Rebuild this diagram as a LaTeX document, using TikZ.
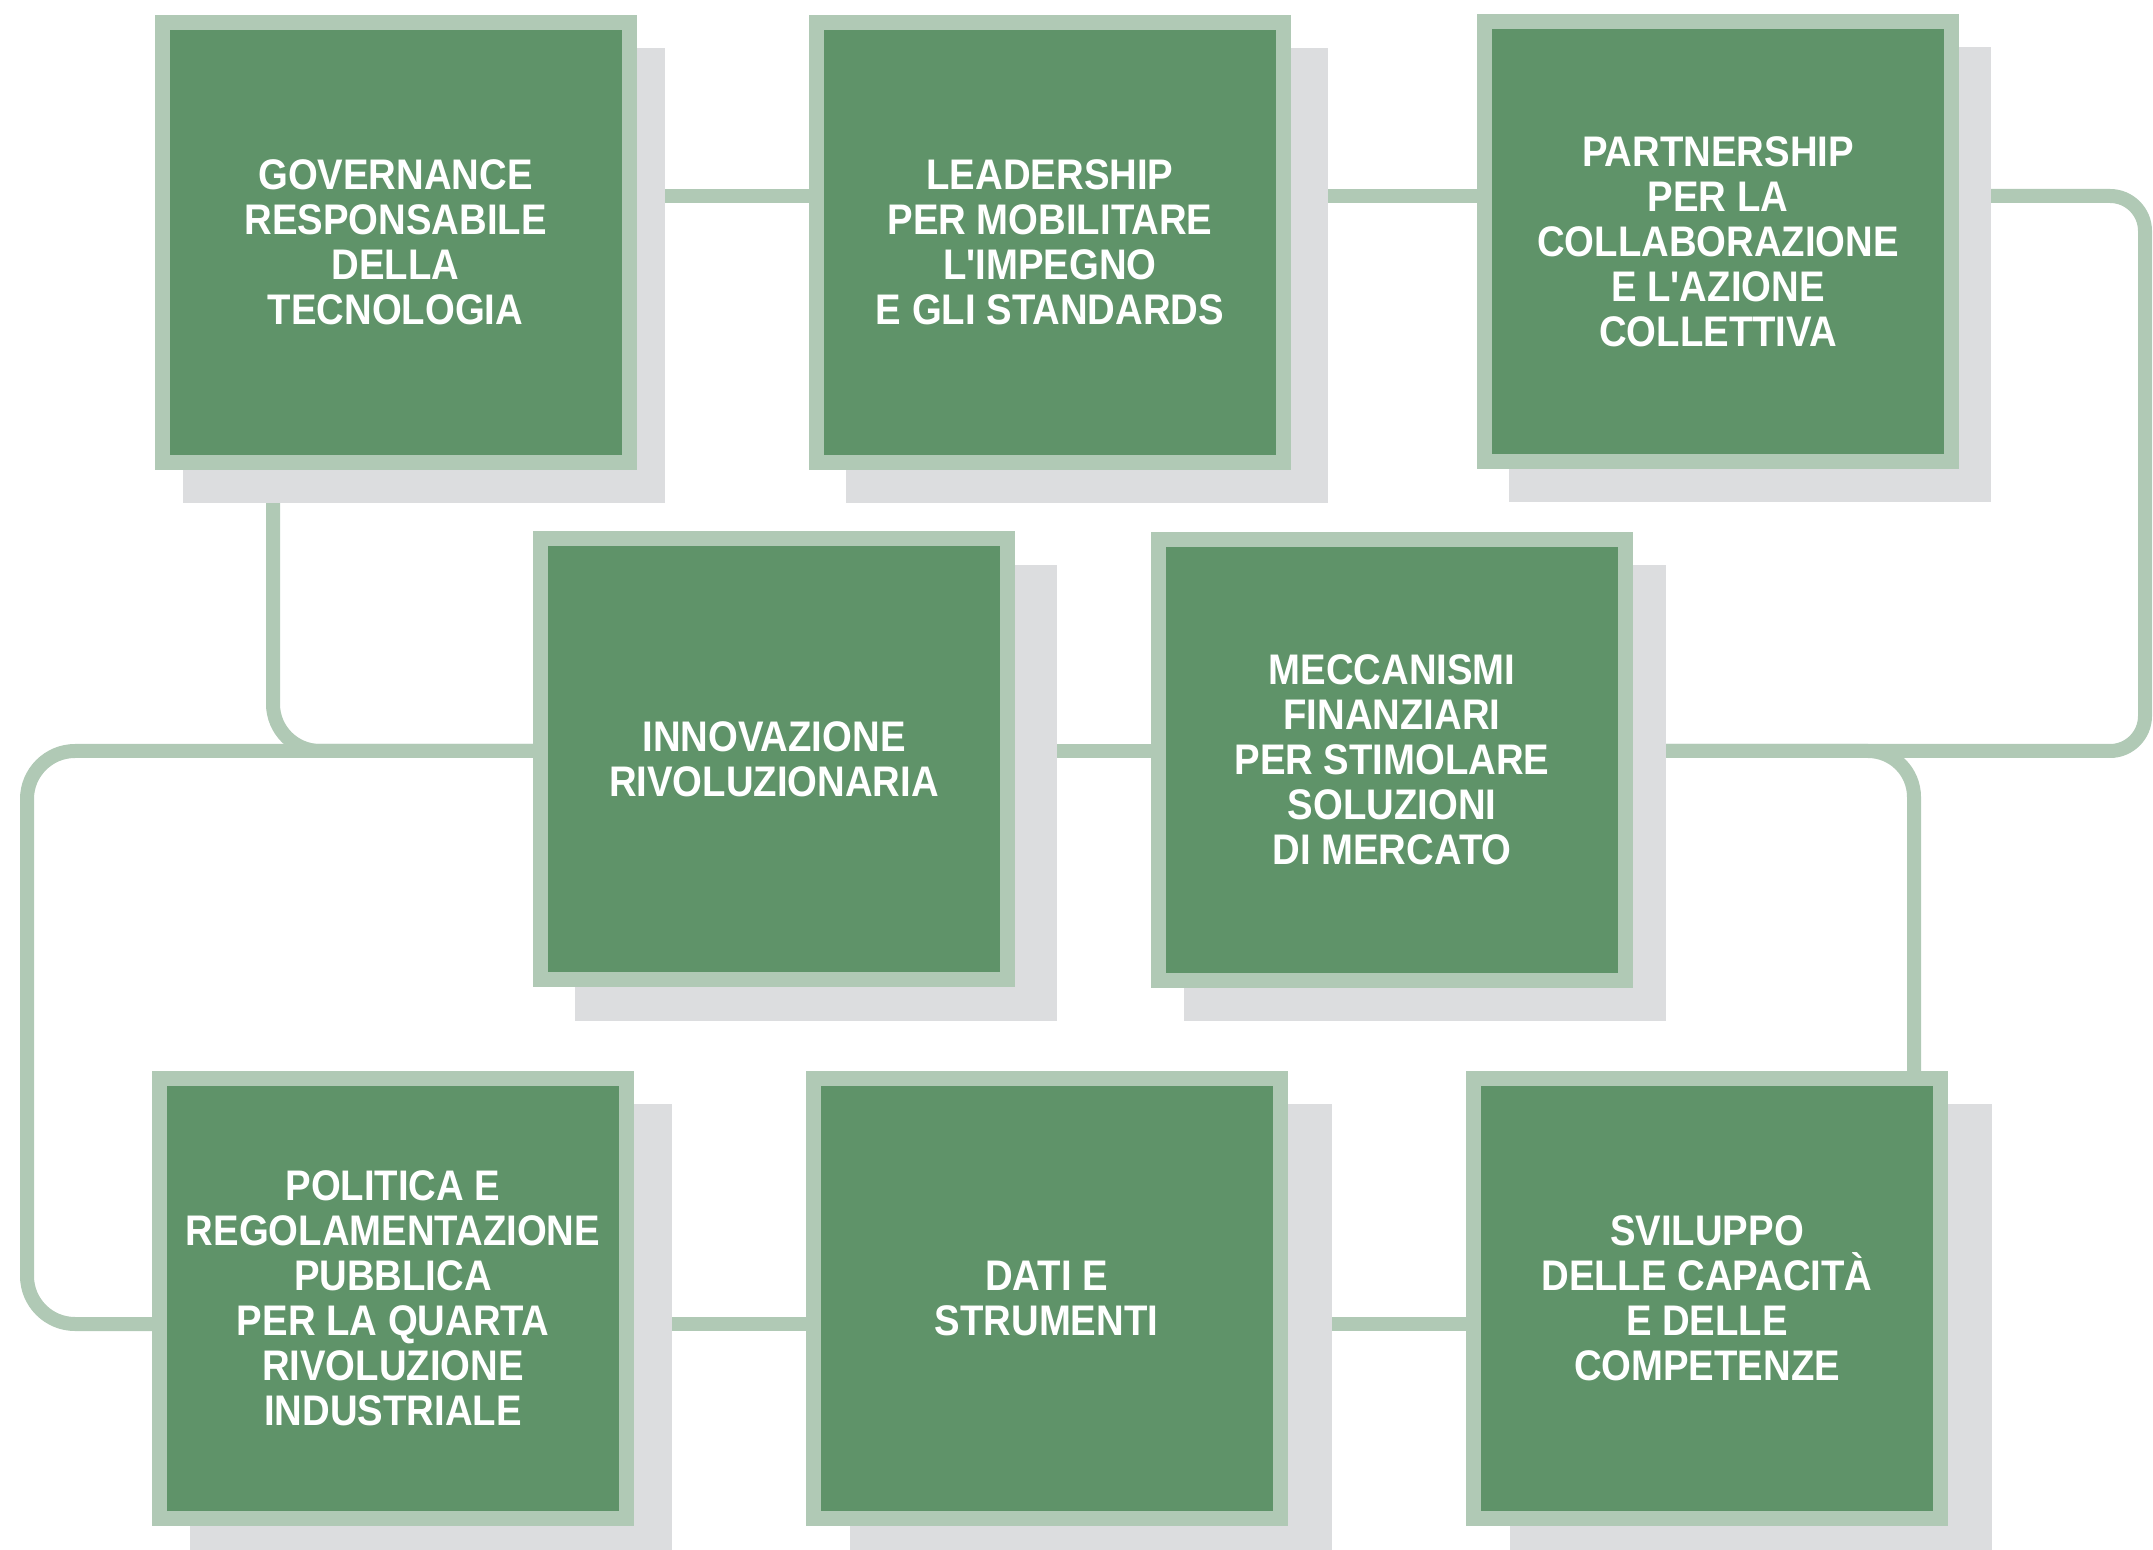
\documentclass[tikz,border=0pt]{standalone}
\usepackage{fontspec}
\newfontfamily\boxfont[FakeStretch=0.895]{Liberation Sans Bold}
\usetikzlibrary{calc}
\definecolor{boxfill}{RGB}{95,147,105}
\definecolor{boxedge}{RGB}{176,201,181}
\definecolor{shadowgrey}{RGB}{220,221,223}
\pgfdeclarelayer{connlayer}
\pgfdeclarelayer{shadowlayer}
\pgfsetlayers{connlayer,shadowlayer,main}
\tikzset{
  card/.style={rectangle, draw=boxedge, line width=7.5pt, fill=boxfill,
    minimum width=233.5pt, minimum height=220pt, inner sep=0pt, outer sep=0pt,
    text=white, align=center, font=\boxfont\fontsize{21.4pt}{22.5pt}\selectfont},
  cardshadow/.style={rectangle, fill=shadowgrey, minimum width=241pt,
    minimum height=227.5pt, inner sep=0pt, outer sep=0pt},
  link/.style={draw=boxedge, line width=7pt},
}
\begin{document}
\begin{tikzpicture}[x=0.5pt,y=-0.5pt]
\useasboundingbox (0,0) rectangle (2153,1550);
% boxes
\node[card] (b1) at (395.5,242.5) {GOVERNANCE\\RESPONSABILE\\DELLA\\TECNOLOGIA};
\node[card] (b2) at (1050,242.5) {LEADERSHIP\\PER MOBILITARE\\L'IMPEGNO\\E GLI STANDARDS};
\node[card] (b3) at (1718,242) {PARTNERSHIP\\PER LA\\COLLABORAZIONE\\E L'AZIONE\\COLLETTIVA};
\node[card] (b4) at (774,759) {INNOVAZIONE\\RIVOLUZIONARIA};
\node[card] (b5) at (1392,760) {MECCANISMI\\FINANZIARI\\PER STIMOLARE\\SOLUZIONI\\DI MERCATO};
\node[card] (b6) at (393,1298.5) {POLITICA E\\REGOLAMENTAZIONE\\PUBBLICA\\PER LA QUARTA\\RIVOLUZIONE\\INDUSTRIALE};
\node[card] (b7) at (1046.5,1298.5) {DATI E\\STRUMENTI};
\node[card] (b8) at (1707,1298) {SVILUPPO\\DELLE CAPACITÀ\\E DELLE\\COMPETENZE};
% shadows
\begin{pgfonlayer}{shadowlayer}
\node[cardshadow] (s1) at ($(b1)+(28,33)$) {};
\node[cardshadow] (s2) at ($(b2)+(37,33)$) {};
\node[cardshadow] (s3) at ($(b3)+(32,33)$) {};
\node[cardshadow] (s4) at ($(b4)+(42,34)$) {};
\node[cardshadow] (s5) at ($(b5)+(33,33)$) {};
\node[cardshadow] (s6) at ($(b6)+(38,33)$) {};
\node[cardshadow] (s7) at ($(b7)+(44,33)$) {};
\node[cardshadow] (s8) at ($(b8)+(44,33)$) {};
\end{pgfonlayer}
% connectors
\begin{pgfonlayer}{connlayer}
\coordinate (ya) at (0,196);
\coordinate (yb) at (0,751);
\coordinate (yc) at (0,1324);
\coordinate (xl) at (27,0);
\coordinate (xd) at (273,0);
\coordinate (xr) at (2145,0);
\coordinate (xs) at (1914,0);
\draw[link] (b1 |- ya) -- (b2 |- ya) -- (b3 |- ya);
\draw[link, rounded corners=17.5pt] (b3 |- ya) -- (xr |- ya) -- (xr |- yb) -- (b5 |- yb);
\draw[link] (b4 |- yb) -- (b5 |- yb);
\draw[link, rounded corners=23pt] (b5 |- yb) -- (xs |- yb) -- (xs |- b8);
\draw[link, rounded corners=23.5pt] (xd |- b1) -- (xd |- yb) -- (b4 |- yb);
\draw[link, rounded corners=24pt] (b4 |- yb) -- (xl |- yb) -- (xl |- yc) -- (b6 |- yc);
\draw[link] (b6 |- yc) -- (b7 |- yc) -- (b8 |- yc);
\end{pgfonlayer}
\end{tikzpicture}
\end{document}
